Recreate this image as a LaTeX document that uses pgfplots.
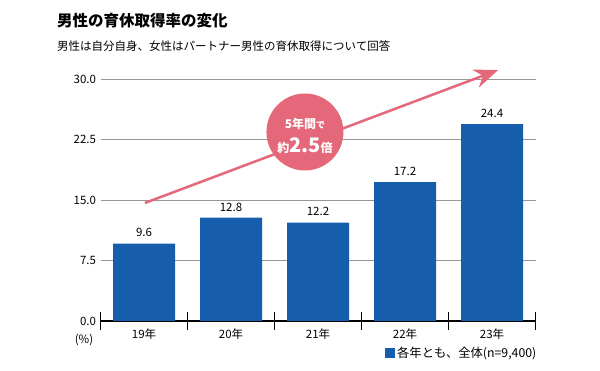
\documentclass[border=0pt]{standalone}
\usepackage{fontspec}
\setmainfont{Noto Sans CJK JP}
\usepackage{pgfplots}
\pgfplotsset{compat=1.18}
\usetikzlibrary{arrows.meta}
\definecolor{barblue}{RGB}{22,94,172}
\definecolor{pinkc}{RGB}{228,104,122}
\definecolor{gridgray}{RGB}{150,150,150}
\begin{document}
\begin{tikzpicture}[x=1pt,y=1pt]
\path[use as bounding box] (0,0) rectangle (600,371);
\node[anchor=base west, font=\fontsize{15.5}{17}\selectfont\bfseries, inner sep=0] at (57,344) {男性の育休取得率の変化};
\node[anchor=base west, font=\fontsize{11.5}{13}\selectfont, inner sep=0] at (57,320) {男性は自分自身、女性はパートナー男性の育休取得について回答};
\node[font=\fontsize{11.5}{13}\selectfont, inner sep=0] at (84,31) {(\%)};
\begin{axis}[
  at={(100.5pt,50pt)}, anchor=south west, scale only axis,
  width=435pt, height=242pt,
  xmin=-0.5, xmax=4.5, ymin=0, ymax=30,
  ybar, bar width=62pt,
  xtick={0,1,2,3,4},
  xticklabels={19年,20年,21年,22年,23年},
  minor xtick={-0.5,0.5,1.5,2.5,3.5,4.5},
  major tick length=0pt, minor tick length=18pt,
  xtick align=center,
  minor x tick style={black, line width=1.2pt},
  xticklabel style={yshift=-4pt},
  ytick={0,7.5,15,22.5,30},
  ytick style={draw=none},
  yticklabel style={xshift=-1pt, /pgf/number format/.cd, fixed, fixed zerofill, precision=1},
  /pgf/number format/assume math mode=true,
  ymajorgrids, grid style={gridgray, line width=0.8pt},
  axis lines*=left,
  x axis line style={-, black, line width=1.3pt},
  y axis line style={draw=none},
  ticklabel style={font=\fontsize{11.5}{13}\selectfont},
  clip=false,
  nodes near coords,
  nodes near coords style={font=\fontsize{11.5}{13}\selectfont, black, yshift=3pt, /pgf/number format/.cd, fixed, fixed zerofill, precision=1},
  legend style={at={(rel axis cs:1,0)}, anchor=east, xshift=6pt, yshift=-32pt, draw=none, fill=none, font=\fontsize{12.3}{14}\selectfont},
  legend image code/.code={\fill[barblue] (0pt,-5pt) rectangle (10pt,5pt);},
]
\addplot[fill=barblue, draw=none] coordinates {(0,9.6) (1,12.8) (2,12.2) (3,17.2) (4,24.4)};
\addlegendentry{各年とも、全体(n=9,400)}
\draw[pinkc, line width=2.5pt, -{Stealth[length=24pt,width=19pt]}] (axis cs:0.01,14.63) -- (axis cs:4.07,31.11);
\node[circle, fill=pinkc, minimum size=77pt, inner sep=0pt] at (axis cs:1.85,23.43) {};
\node[inner sep=0pt, align=center, text=white, font=\fontsize{12}{24}\selectfont, yshift=-4pt] at (axis cs:1.85,23.43)
  {\bfseries 5年間{\fontsize{9}{24}\selectfont で}\\
   \bfseries 約{\fontsize{20}{24}\selectfont 2.5}倍};
\end{axis}
\end{tikzpicture}
\end{document}
